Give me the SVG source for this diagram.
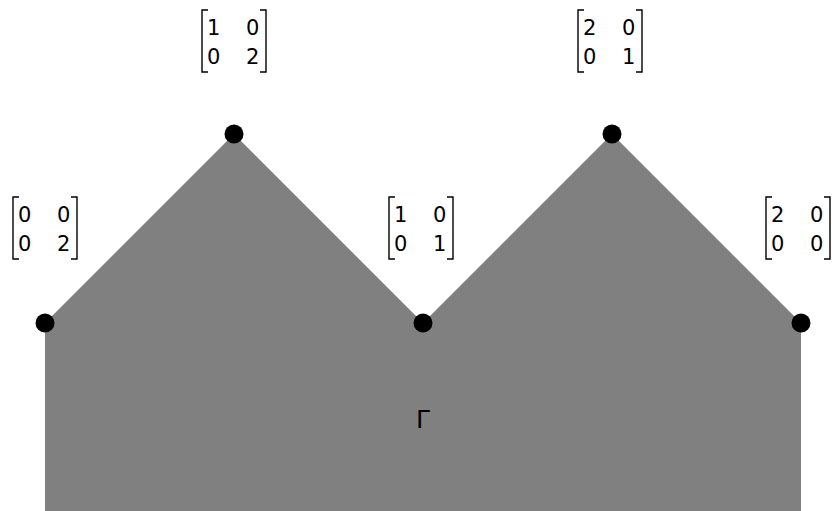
<svg xmlns="http://www.w3.org/2000/svg" width="839" height="511" viewBox="0 0 839 511">
<style>
.br{fill:none;stroke:#000;stroke-width:1.4}
.t{font-family:"DejaVu Sans","Liberation Sans",sans-serif;font-size:21px;fill:#000}
.dot{fill:#000}
</style>
<defs>
<g id="brk"><path class="br" d="M7,0 H1 V62 H7"/><path class="br" d="M59,0 H65 V62 H59"/></g>
</defs>
<rect width="839" height="511" fill="#fff"/>
<g id="region"><polygon points="45,323 234,134 423,323 612,134 801,323 801,511 45,511" fill="#808080"/>
<text x="423" y="428" text-anchor="middle" style="font-family:'DejaVu Sans','Liberation Sans',sans-serif;font-size:25px">Γ</text></g>
<g id="connectors"></g>
<g id="n1"><circle class="dot" cx="45" cy="323" r="9.5"/>
<g transform="translate(12,197)"><use href="#brk"/><text class="t" x="6" y="25">0</text><text class="t" x="45" y="25">0</text><text class="t" x="6" y="54">0</text><text class="t" x="45" y="54">2</text></g></g>
<g id="n2"><circle class="dot" cx="234" cy="134" r="9.5"/>
<g transform="translate(201,10)"><use href="#brk"/><text class="t" x="6" y="25">1</text><text class="t" x="45" y="25">0</text><text class="t" x="6" y="54">0</text><text class="t" x="45" y="54">2</text></g></g>
<g id="n3"><circle class="dot" cx="423" cy="323" r="9.5"/>
<g transform="translate(388,197)"><use href="#brk"/><text class="t" x="6" y="25">1</text><text class="t" x="45" y="25">0</text><text class="t" x="6" y="54">0</text><text class="t" x="45" y="54">1</text></g></g>
<g id="n4"><circle class="dot" cx="612" cy="134" r="9.5"/>
<g transform="translate(577,10)"><use href="#brk"/><text class="t" x="6" y="25">2</text><text class="t" x="45" y="25">0</text><text class="t" x="6" y="54">0</text><text class="t" x="45" y="54">1</text></g></g>
<g id="n5"><circle class="dot" cx="801" cy="323" r="9.5"/>
<g transform="translate(765,197)"><use href="#brk"/><text class="t" x="6" y="25">2</text><text class="t" x="45" y="25">0</text><text class="t" x="6" y="54">0</text><text class="t" x="45" y="54">0</text></g></g>
</svg>
